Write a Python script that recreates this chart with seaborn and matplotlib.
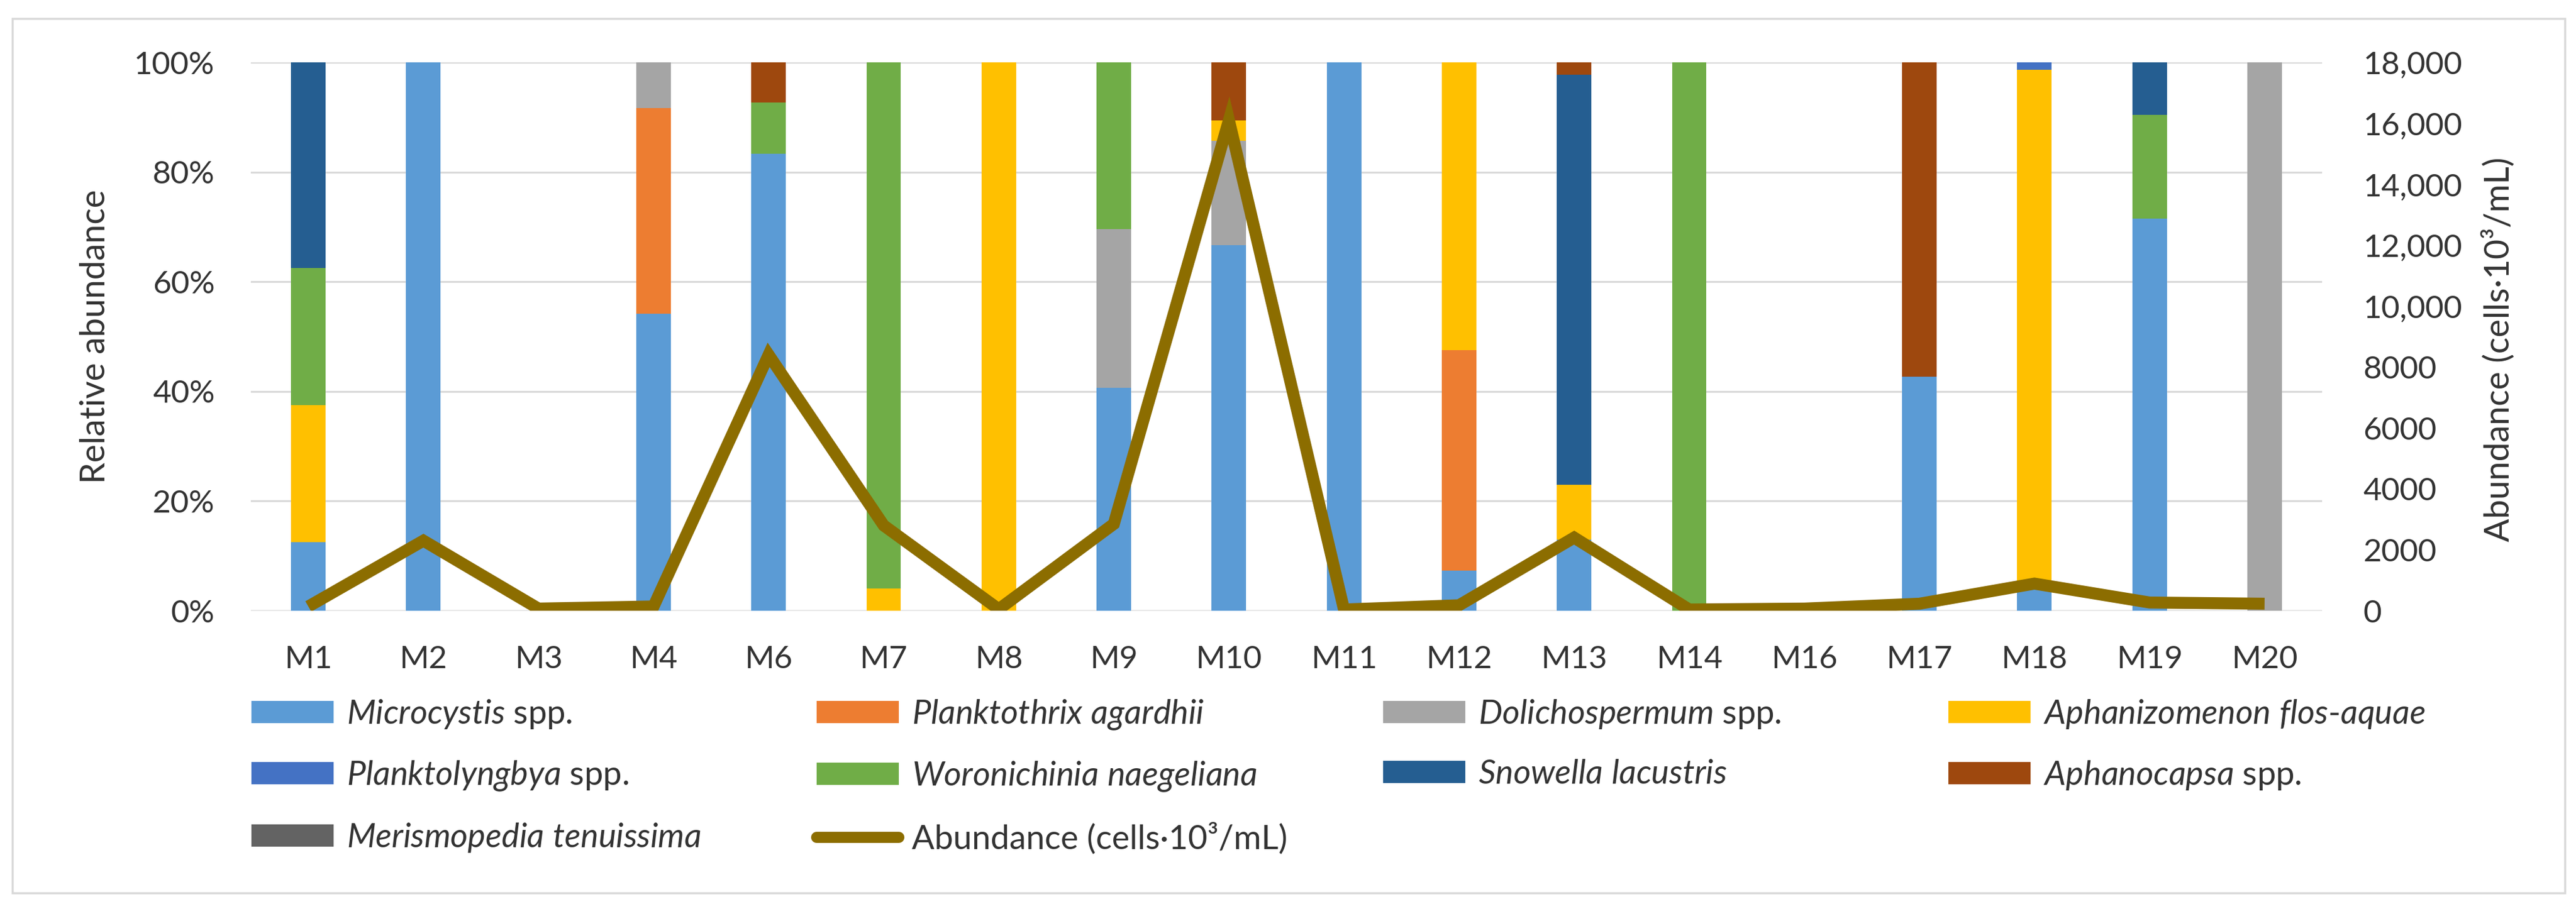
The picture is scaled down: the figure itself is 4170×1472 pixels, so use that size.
import numpy as np
import pandas as pd
import matplotlib
matplotlib.use("Agg")
import matplotlib.pyplot as plt
import seaborn as sns
from matplotlib.patches import Patch, Rectangle
from matplotlib.lines import Line2D

# ---------------- data ----------------
samples = ["M1", "M2", "M3", "M4", "M6", "M7", "M8", "M9", "M10", "M11",
           "M12", "M13", "M14", "M16", "M17", "M18", "M19", "M20"]

microcystis    = [12.5, 100, 0, 54.2, 83.3, 0, 0, 40.7, 66.7, 100, 7.3, 13.0, 0, 0, 42.7, 5.0, 71.5, 0]
planktothrix   = [0, 0, 0, 37.5, 0, 0, 0, 0, 0, 0, 40.2, 0, 0, 0, 0, 0, 0, 0]
dolichospermum = [0, 0, 0, 8.3, 0, 0, 0, 28.9, 19.0, 0, 0, 0, 0, 0, 0, 0, 0, 100]
aphanizomenon  = [25.0, 0, 0, 0, 0, 4.0, 100, 0, 3.7, 0, 52.5, 10.0, 0, 0, 0, 93.6, 0, 0]
planktolyngbya = [0, 0, 0, 0, 0, 0, 0, 0, 0, 0, 0, 0, 0, 0, 0, 1.4, 0, 0]
woronichinia   = [25.0, 0, 0, 0, 9.4, 96.0, 0, 30.4, 0, 0, 0, 0, 100, 0, 0, 0, 18.9, 0]
snowella       = [37.5, 0, 0, 0, 0, 0, 0, 0, 0, 0, 0, 74.7, 0, 0, 0, 0, 9.6, 0]
aphanocapsa    = [0, 0, 0, 0, 7.3, 0, 0, 0, 10.6, 0, 0, 2.3, 0, 0, 57.3, 0, 0, 0]
merismopedia   = [0] * 18

abundance = [140, 2300, 70, 140, 8400, 2800, 50, 2850, 16100, 40,
             180, 2400, 40, 70, 230, 890, 270, 230]

species_labels = [
    r"$\it{Microcystis}$ spp.",
    r"$\it{Planktothrix\ agardhii}$",
    r"$\it{Dolichospermum}$ spp.",
    r"$\it{Aphanizomenon\ flos}$-$\it{aquae}$",
    r"$\it{Planktolyngbya}$ spp.",
    r"$\it{Woronichinia\ naegeliana}$",
    r"$\it{Snowella\ lacustris}$",
    r"$\it{Aphanocapsa}$ spp.",
    r"$\it{Merismopedia\ tenuissima}$",
]
line_label = "Abundance (cells·10³/mL)"
left_ticks = [0, 20, 40, 60, 80, 100]
left_tick_labels = ["0%", "20%", "40%", "60%", "80%", "100%"]
right_ticks = [0, 2000, 4000, 6000, 8000, 10000, 12000, 14000, 16000, 18000]
right_tick_labels = ["0", "2000", "4000", "6000", "8000", "10,000", "12,000",
                     "14,000", "16,000", "18,000"]

species_values = [microcystis, planktothrix, dolichospermum, aphanizomenon,
                  planktolyngbya, woronichinia, snowella, aphanocapsa, merismopedia]
colors = ["#5B9BD5", "#ED7D31", "#A5A5A5", "#FFC000", "#4472C4",
          "#70AD47", "#255E91", "#9E480E", "#636363"]
line_color = "#8C6D00"
text_color = "#333333"

# ---------------- style ----------------
sns.set_theme(style="white")
plt.rcParams["font.family"] = ["Lato", "DejaVu Sans"]
plt.rcParams["mathtext.fontset"] = "custom"
plt.rcParams["mathtext.it"] = "Lato:italic"
plt.rcParams["mathtext.rm"] = "Lato"
plt.rcParams["text.color"] = text_color
FS = 37
FS_LEG = 39
FS_LAB = 40

W, H = 4170, 1472
fig = plt.figure(figsize=(W / 100, H / 100), dpi=100)
fig.patch.set_facecolor("white")

ax_l, ax_r, ax_b, ax_t = 406, 3759, 989, 101
ax = fig.add_axes([ax_l / W, 1 - ax_b / H, (ax_r - ax_l) / W, (ax_b - ax_t) / H])

# stacked bars via cumulative overlay
cum = np.cumsum(np.array(species_values, dtype=float), axis=0)
for i in range(len(species_values) - 1, -1, -1):
    df = pd.DataFrame({"sample": samples, "val": cum[i]})
    sns.barplot(data=df, x="sample", y="val", order=samples, color=colors[i],
                saturation=1, width=0.3, errorbar=None, linewidth=0, ax=ax)

ax.set_xlim(-0.5, len(samples) - 0.5)
ax.set_ylim(0, 100)
ax.set_yticks(left_ticks)
ax.set_yticklabels(left_tick_labels)
ax.yaxis.grid(True, color="#d9d9d9", lw=2.2)
ax.xaxis.grid(False)
ax.set_axisbelow(True)
for s in ax.spines.values():
    s.set_visible(False)
ax.tick_params(axis="y", length=0, pad=42, labelsize=FS, labelcolor=text_color)
ax.tick_params(axis="x", length=0, pad=40, labelsize=FS, labelcolor=text_color)
ax.set_xlabel("")
ax.set_ylabel("Relative abundance", fontsize=FS_LAB, color=text_color)
ax.yaxis.set_label_coords((155 - ax_l) / (ax_r - ax_l), 0.5)
ax.yaxis.label.set_va("center")

# abundance line on secondary axis
ax2 = ax.twinx()
sns.lineplot(x=np.arange(len(samples)), y=abundance, ax=ax2, color=line_color,
             lw=14, legend=False, solid_joinstyle="miter", solid_capstyle="butt")
ax2.set_ylim(0, 18000)
ax2.set_yticks(right_ticks)
ax2.set_yticklabels(right_tick_labels)
ax2.grid(False)
for s in ax2.spines.values():
    s.set_visible(False)
ax2.tick_params(axis="y", length=0, pad=48, labelsize=FS, labelcolor=text_color)
ax2.set_ylabel(line_label, fontsize=FS_LAB, color=text_color)
ax2.yaxis.set_label_coords((4045 - ax_l) / (ax_r - ax_l), (ax_b - 566) / (ax_b - ax_t))
ax2.yaxis.label.set_va("center")
ax.set_xlim(-0.5, len(samples) - 0.5)

# ---------------- legend (4 equal columns, row-wise order) ----------------
handles = [Patch(facecolor=c, edgecolor="none") for c in colors]
handles.append(Line2D([], [], color=line_color, lw=13, solid_capstyle="round"))
labels = species_labels + [line_label]
col_x = [407, 1322, 2239, 3154]
ncol = 4
for c in range(ncol):
    idx = list(range(c, len(handles), ncol))
    leg = fig.legend([handles[i] for i in idx], [labels[i] for i in idx],
                     loc="upper left", bbox_to_anchor=(col_x[c] / W, 1 - 1130 / H),
                     bbox_transform=fig.transFigure, frameon=False,
                     fontsize=FS_LEG, borderpad=0, borderaxespad=0,
                     handlelength=2.45, handleheight=0.65, handletextpad=0.4,
                     labelspacing=0.85)
    for t in leg.get_texts():
        t.set_color(text_color)

# chart-area border
fig.patches.append(Rectangle((20 / W, 1 - 1446 / H), (4152 - 20) / W, (1446 - 30) / H,
                             transform=fig.transFigure, fill=False,
                             edgecolor="#d9d9d9", lw=2.5))

fig.savefig("out.png", dpi=100, facecolor="white")
